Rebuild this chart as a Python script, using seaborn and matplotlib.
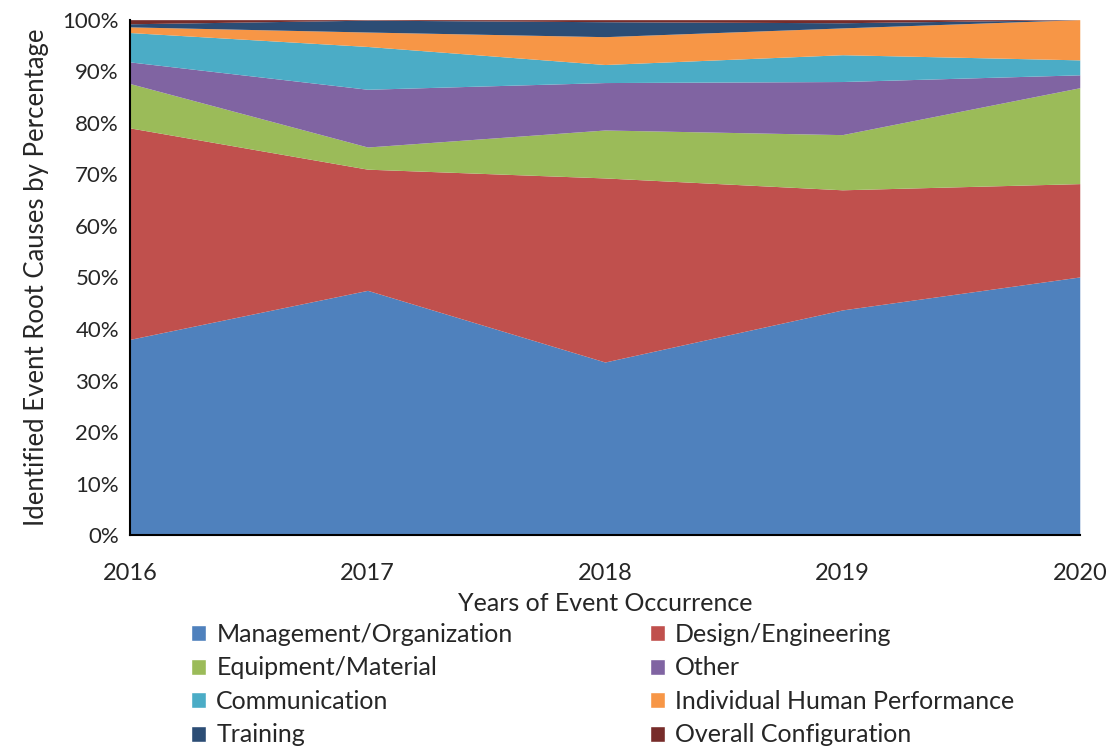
import numpy as np
import matplotlib.pyplot as plt
import seaborn as sns
from matplotlib.patches import Patch

years = [2016, 2017, 2018, 2019, 2020]
categories = ["Management/Organization", "Design/Engineering", "Equipment/Material",
              "Other", "Communication", "Individual Human Performance",
              "Training", "Overall Configuration"]

management = [38.0, 47.5, 33.6, 43.7, 50.1]
design = [41.0, 23.5, 35.7, 23.3, 18.1]
equipment = [8.6, 4.3, 9.3, 10.7, 18.6]
other = [4.2, 11.2, 9.2, 10.3, 2.5]
communication = [5.7, 8.3, 3.5, 5.2, 2.9]
human_perf = [1.1, 2.8, 5.4, 5.2, 7.8]
training = [0.6, 2.3, 2.9, 1.0, 0.0]
overall_config = [0.8, 0.1, 0.4, 0.6, 0.0]

series = [management, design, equipment, other, communication,
          human_perf, training, overall_config]
colors = ["#4F81BD", "#C0504D", "#9BBB59", "#8064A2", "#4BACC6",
          "#F79646", "#2C4D75", "#772C2A"]

sns.set_style("white")
plt.rcParams["font.family"] = ["Lato", "DejaVu Sans"]

fig = plt.figure(figsize=(11.12, 7.56), dpi=100)
ax = fig.add_axes([0.117, 0.292, 0.854, 0.682])

ax.stackplot(years, *[np.array(s) for s in series], colors=sns.color_palette(colors),
             labels=categories, linewidth=0)

ax.set_xlim(2016, 2020)
ax.set_ylim(0, 100)
ax.set_xticks(years)
ax.set_yticks(range(0, 101, 10))
ax.set_yticklabels([f"{v}%" for v in range(0, 101, 10)])
ax.tick_params(axis="y", labelsize=16, length=0, pad=8)
ax.tick_params(axis="x", labelsize=17, length=0, pad=20)
ax.set_xlabel("Years of Event Occurrence", fontsize=18, labelpad=6)
ax.set_ylabel("Identified Event Root Causes by Percentage", fontsize=18.5, labelpad=10)
sns.despine(ax=ax, top=True, right=True)
for side in ["left", "bottom"]:
    ax.spines[side].set_color("black")
    ax.spines[side].set_linewidth(1.5)

# legend: two columns, filled row by row
order = [0, 2, 4, 6, 1, 3, 5, 7]
handles = [Patch(facecolor=colors[i], label=categories[i]) for i in order]
fig.legend(handles=handles, loc="upper left", bbox_to_anchor=(0.172, 0.176),
           ncol=2, frameon=False, fontsize=18, handlelength=0.6, handleheight=0.6,
           handletextpad=0.4, columnspacing=5.5, labelspacing=0.42,
           borderaxespad=0, borderpad=0)

fig.savefig("out.png", dpi=100)
